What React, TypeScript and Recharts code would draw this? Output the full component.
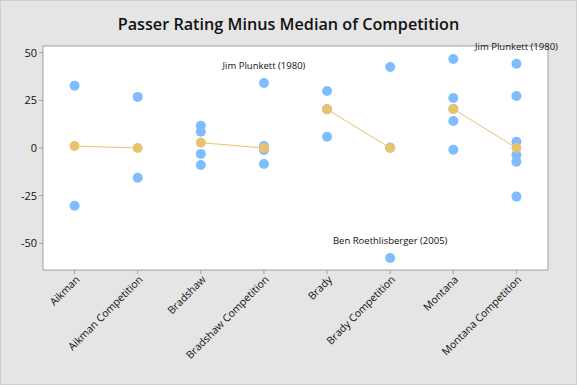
import { ComposedChart, Scatter, XAxis, YAxis, ReferenceArea, LabelList } from 'recharts'

const categories = [
  'Aikman',
  'Aikman Competition',
  'Bradshaw',
  'Bradshaw Competition',
  'Brady',
  'Brady Competition',
  'Montana',
  'Montana Competition'
]

// rating minus median, one list per group
const aikman = [32.7, -30.3]
const aikmanComp = [26.8, -15.6]
const bradshaw = [11.7, 8.5, -3.1, -8.9]
const bradshawComp = [34.1, 1, -1, -8.4]
const brady = [29.9, 20.3, 5.9]
const bradyComp = [42.5, 0.3, -57.7]
const montana = [46.7, 26.2, 20.5, 14.2, -0.9]
const montanaComp = [44.2, 27.3, 3.3, -3.7, -7.2, -25.5]

const medians = [1, 0, 2.8, 0, 20.3, 0, 20.5, 0]

const notes = [
  { cat: 3, value: 34.1, text: 'Jim Plunkett (1980)' },
  { cat: 5, value: -57.7, text: 'Ben Roethlisberger (2005)' },
  { cat: 7, value: 44.2, text: 'Jim Plunkett (1980)' }
]

const yTicks = [-50, -25, 0, 25, 50]

const groups = [aikman, aikmanComp, bradshaw, bradshawComp, brady, bradyComp, montana, montanaComp]
const points = groups.flatMap((vals, i) => vals.map(v => ({ x: i, y: v })))
const medianPairs = [0, 2, 4, 6].map(i => [
  { x: i, y: medians[i] },
  { x: i + 1, y: medians[i + 1] }
])
const noteData = notes.map(n => ({ x: n.cat, y: n.value, note: n.text }))

const BLUE = '#80BDFF'
const GOLD = '#E8C36E'
const FONT = '"Open Sans", sans-serif'

const Dot = (props: any) => <circle cx={props.cx} cy={props.cy} r={5} fill={props.fill} />

const XTick = (props: any) => {
  const { x, y, payload } = props
  return (
    <g transform={`translate(${x},${y})`}>
      <text x={0} y={0} dx={1} dy={7} textAnchor="end" transform="rotate(-45)" fontSize={10.5} fill="#111" fontFamily={FONT}>
        {categories[payload.value]}
      </text>
    </g>
  )
}

const NoteLabel = (props: any) => {
  const { x, y, width, value } = props
  return (
    <text x={x + (width || 0) / 2} y={y - 9} textAnchor="middle" fontSize={9.5} fill="#111" fontFamily={FONT}>
      {value}
    </text>
  )
}

export default function App() {
  return (
    <div style={{ position: 'fixed', left: 0, top: 0, width: 577, height: 385, background: '#e5e5e5', boxSizing: 'border-box', border: '1px solid #cfcfcf' }}>
      <div style={{ position: 'absolute', top: 12, left: 0, width: 575, textAlign: 'center', fontFamily: FONT, fontWeight: 600, fontSize: 16.2, color: '#111' }}>
        Passer Rating Minus Median of Competition
      </div>
      <ComposedChart width={575} height={383} margin={{ top: 45, right: 28, bottom: 0, left: 0 }} style={{ position: 'absolute', left: 0, top: 0 }}>
        <XAxis
          type="number"
          dataKey="x"
          domain={[-0.5, 7.5]}
          ticks={[0, 1, 2, 3, 4, 5, 6, 7]}
          interval={0}
          allowDataOverflow
          height={114}
          axisLine={false}
          tickLine={{ stroke: '#a0a0a0' }}
          tickSize={4}
          tick={<XTick />}
        />
        <YAxis
          type="number"
          dataKey="y"
          domain={[-64, 53.5]}
          ticks={yTicks}
          allowDataOverflow
          width={42}
          axisLine={false}
          tickLine={{ stroke: '#a0a0a0' }}
          tickSize={4}
          tick={{ fill: '#111', fontSize: 11, fontFamily: FONT }}
        />
        <ReferenceArea x1={-0.5} x2={7.5} y1={-64} y2={53.5} fill="#ffffff" fillOpacity={1} stroke="#a0a0a0" strokeWidth={1} />
        <Scatter data={points} fill={BLUE} shape={<Dot />} isAnimationActive={false} />
        {medianPairs.map((pair, i) => (
          <Scatter key={i} data={pair} fill={GOLD} line={{ stroke: GOLD, strokeWidth: 1 }} shape={<Dot />} isAnimationActive={false} />
        ))}
        <Scatter data={noteData} fill="none" shape={() => <g />} isAnimationActive={false}>
          <LabelList dataKey="note" content={<NoteLabel />} />
        </Scatter>
      </ComposedChart>
    </div>
  )
}
